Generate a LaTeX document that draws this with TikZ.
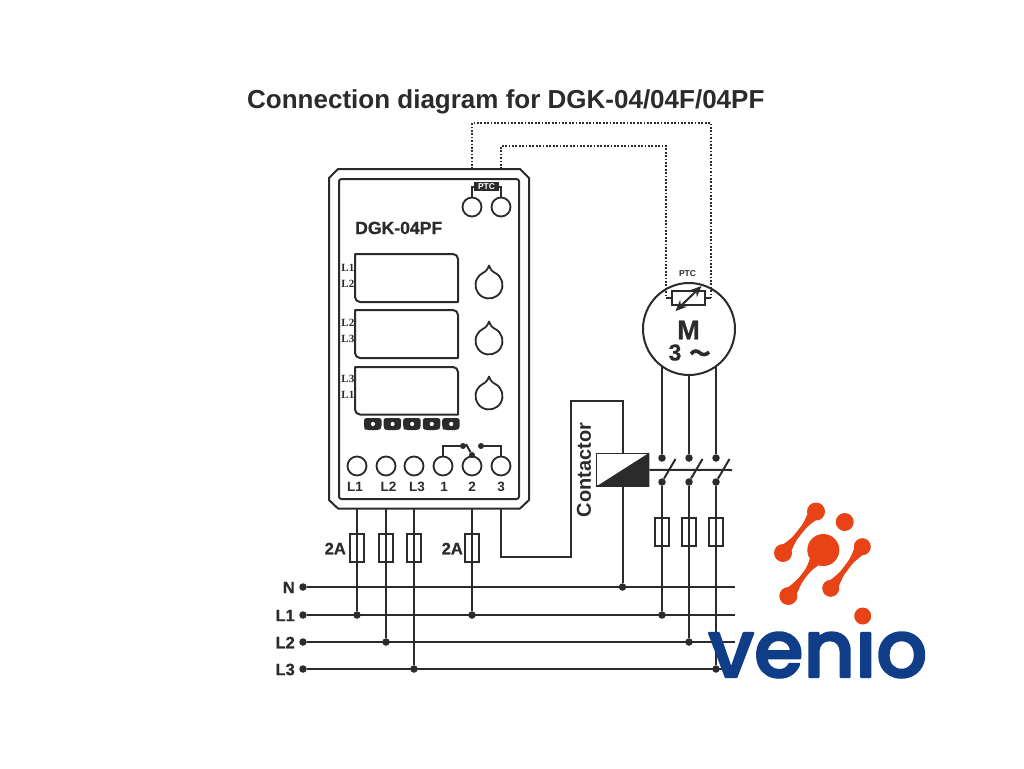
\documentclass[tikz,border=0pt]{standalone}
\usepackage{graphicx}
\usepackage{fontspec}
\setmainfont{Liberation Sans}
\newfontfamily\serifb{Liberation Serif}
\newfontfamily\heavy[BoldFeatures={FakeBold=0.7}]{Liberation Sans}
\newfontfamily\logofont[FakeBold=2.6]{Poppins Medium}
\usetikzlibrary{arrows.meta,calc}
\definecolor{ink}{HTML}{2B2B2B}
\definecolor{vorange}{HTML}{E84316}
\definecolor{vblue}{HTML}{0F3D87}
\tikzset{
 wire/.style={draw=ink,line width=2pt},
 boxline/.style={draw=ink,line width=2pt,line join=round},
 dotline/.style={draw=ink,line width=2pt,dash pattern=on 1.7pt off 1.7pt},
 term/.style={circle,draw=ink,line width=1.8pt,minimum size=19pt,inner sep=0pt},
 jdot/.style={circle,fill=ink,minimum size=7.5pt,inner sep=0pt},
 fusebox/.style={rectangle,draw=ink,line width=1.8pt,minimum width=14.5pt,minimum height=28pt,inner sep=0pt},
 lab/.style={text=ink,font=\heavy\bfseries\fontsize{16.5}{16.5}\selectfont,inner sep=0pt},
 lcd/.style={text=ink,font=\serifb\bfseries\fontsize{11}{11}\selectfont,inner sep=0pt},
 termlab/.style={text=ink,font=\bfseries\fontsize{13.5}{13.5}\selectfont,inner sep=0pt},
}
\newcommand\lcdbox[2]{% top, bottom
 \draw[boxline] (355,#1+1) -- ++(0,-1) -- (453,#1) arc[start angle=-90,end angle=0,radius=5] -- (458,#2) -- (360,#2) arc[start angle=90,end angle=180,radius=5] -- cycle;}
\newcommand\dropknob[2]{%
 \draw[draw=ink,line width=1.8pt,line join=round] (#1,#2-19.5) .. controls (#1+1.5,#2-15.5) and (#1+3,#2-13.5) .. (#1+6.75,#2-11.7)
  arc[start angle=-60,end angle=240,radius=13.5] .. controls (#1-3,#2-13.5) and (#1-1.5,#2-15.5) .. cycle;}
\newcommand\logostem[6]{% x1 y1 r1 x2 y2 r2
 \coordinate (sa) at (#1,#2); \coordinate (sb) at (#4,#5); \coordinate (sm) at ($(sa)!.5!(sb)$);
 \fill[vorange] ($(sa)!#3pt!90:(sb)$) .. controls (sm) .. ($(sb)!#6pt!-90:(sa)$) -- ($(sb)!#6pt!90:(sa)$) .. controls (sm) .. ($(sa)!#3pt!-90:(sb)$) -- cycle;
 \draw[vorange,line width=5pt] (sa) -- (sb);
 }
\begin{document}
\begin{tikzpicture}[x=1pt,y=-1pt]
\useasboundingbox (0,0) rectangle (1024,768);
\fill[white] (0,0) rectangle (1024,768);

\node[text=ink,font=\bfseries\fontsize{26}{26}\selectfont,inner sep=0pt,anchor=base west] (title) at (247,108.5) {Connection diagram for DGK-04/04F/04PF};

% housing
\draw[boxline] (338,169) -- (520,169) -- (529,178) -- (529,500) -- (520,508.5) -- (338,508.5) -- (329,500) -- (329,178) -- cycle;
\draw[boxline,rounded corners=2.5pt] (339,179) rectangle (519,499);
\node[text=ink,font=\heavy\bfseries\fontsize{17.6}{18}\selectfont,inner sep=0pt,anchor=base west] (model) at (355,234) {DGK-04PF};

% terminals
\foreach \n/\x in {t1/357,t2/386,t3/414,t4/443,t5/472,t6/501}{\node[term] (\n) at (\x,466) {};}
\node[term] (p1) at (472,207) {};
\node[term] (p2) at (501,207) {};
\node[termlab] (lt1) at (355,486.5) {L1};
\node[termlab] (lt2) at (388.5,486.5) {L2};
\node[termlab] (lt3) at (417,486.5) {L3};
\node[termlab] (lt4) at (444,486.5) {1};
\node[termlab] (lt5) at (472,486.5) {2};
\node[termlab] (lt6) at (501,486.5) {3};

% PTC tag
\node[fill=ink,text=white,font=\bfseries\fontsize{8.5}{9}\selectfont,minimum width=25pt,minimum height=9.5pt,inner sep=0pt] (ptctag) at (486.5,186.5) {PTC};
\draw[wire] (p1.north) |- (ptctag.west);
\draw[wire] (p2.north) |- (ptctag.east);

% displays
\lcdbox{254}{302}
\lcdbox{310}{358}
\lcdbox{367}{414.5}
\foreach \n/\y/\t in {a/268/L1,b/284/L2,c/322.5/L2,d/339/L3,e/378.5/L3,f/395/L1}{\node[lcd,anchor=east] (\n) at (354.5,\y) {\t};}

% knobs
\dropknob{489}{285}
\dropknob{489}{341}
\dropknob{489}{396}

% buttons
\foreach \x in {373,392.6,412.2,431.8,451.2}{
 \fill[ink,rounded corners=2.5pt] (\x-9,418) -- (\x+8.5,418) -- (\x+8.5,428) -- (\x+6,430) -- (\x-7,430) -- (\x-9,428) -- cycle;
 \fill[white] (\x,424) circle[radius=2.1];
}

% relay
\node[jdot,minimum size=6pt] (rl) at (463,446) {};
\node[jdot,minimum size=6pt] (rp) at (472,455) {};
\node[jdot,minimum size=6pt] (rr) at (481,446) {};
\draw[wire] (t4.north) |- (rl);
\draw[wire] (t5.north) -- (rp);
\draw[wire] (t6.north) |- (rr);
\draw[wire] (rp) -- (466,444);

% bus lines
\foreach \n/\y/\t in {N/587/N,A/615/L1,B/642/L2,C/669/L3}{
 \node[jdot] (bus\n) at (303,\y) {};
 \coordinate (end\n) at (735,\y);
 \node[lab,anchor=east] (lbl\n) at (295,\y+0.5) {\t};
 \draw[wire] (bus\n) -- (end\n);
}
\draw[wire,line width=2.4pt] (busC) -- (716,669);

% junctions on buses
\node[jdot] (j1) at (357,615) {};
\node[jdot] (j2) at (386,642) {};
\node[jdot] (j3) at (414,669) {};
\node[jdot] (j4) at (472,615) {};
\node[jdot] (j5) at (622.5,587) {};
\node[jdot] (j6) at (662,615) {};
\node[jdot] (j7) at (689,642) {};
\node[jdot] (j8) at (716,669) {};

% feeds from unit
\foreach \x/\j in {357/j1,386/j2,414/j3,472/j4}{
 \coordinate (top\j) at (\x,508.5);
 \draw[wire] (top\j) -- (\j);
}
\node[fusebox] (f1) at (357,548) {};
\node[fusebox] (f2) at (386,548) {};
\node[fusebox] (f3) at (414,548) {};
\node[fusebox] (f4) at (472,548) {};
\node[lab,anchor=east] (fa) at (346,548.5) {2A};
\node[lab,anchor=east] (fb) at (463,548.5) {2A};

% contactor coil
\node[rectangle,draw=ink,line width=1.8pt,minimum width=52pt,minimum height=32.5pt,inner sep=0pt] (coil) at (622.5,469.8) {};
\fill[ink] (coil.south west) -- (coil.north east) -- (coil.south east) -- cycle;
\coordinate (t6b) at (501,508.5);
\draw[wire] (t6b) -- (501,557) -- (571,557) -- (571,401) -- (622.5,401) -- (coil.north);
\draw[wire] (coil.south) -- (j5);
\node[text=ink,font=\bfseries\fontsize{20}{20}\selectfont,inner sep=0pt,rotate=90] (ctr) at (584,470) {Contactor};

% motor
\node[circle,draw=ink,line width=2pt,minimum size=92pt,inner sep=0pt] (motor) at (689,329) {};
\node[text=ink,font=\bfseries\fontsize{8.5}{8.5}\selectfont,inner sep=0pt] (mptc) at (687.5,273.5) {PTC};
\node[rectangle,draw=ink,line width=1.6pt,minimum width=33pt,minimum height=14pt,inner sep=0pt] (res) at (688.5,298) {};
\coordinate (rla) at (666,298);
\coordinate (rlb) at (711,298);
\draw[wire] (rla) -- (res.west);
\draw[wire] (res.east) -- (rlb);
\draw[draw=ink,line width=2pt,{Stealth[length=11pt,width=9.5pt]}-{Stealth[length=11pt,width=9.5pt]}] (675.5,311) -- (701.5,286);
\node[text=ink,font=\heavy\bfseries\fontsize{27}{27}\selectfont,inner sep=0pt] (mm) at (688.5,330) {M};
\node[text=ink,font=\heavy\bfseries\fontsize{23}{23}\selectfont,inner sep=0pt] (m3) at (675,352.5) {3};
\draw[draw=ink,line width=3.6pt] (691,354) .. controls (694,349.5) and (698,351) .. (700,353) .. controls (702,355) and (706,355.5) .. (709,352);

% dotted PTC wires
\coordinate (d1) at (472,169);
\coordinate (d2) at (501,169);
\draw[dotline] (d1) -- (472,123) -- (711,123) -- (rlb);
\draw[dotline] (d2) -- (501,146) -- (666,146) -- (rla);

% contacts
\foreach \n/\x/\j in {a/662/j6,b/689/j7,c/716/j8}{
 \coordinate (mot\n) at (\x,{329+sqrt(46*46-(\x-689)*(\x-689))});
 \node[jdot] (cu\n) at (\x,458) {};
 \node[jdot] (cl\n) at (\x,482) {};
 \draw[wire] (mot\n) -- (cu\n);
 \draw[wire] (cl\n) -- (\j);
 \draw[wire] (cl\n) -- (\x+13.5,459);
 \node[fusebox] (g\n) at (\x,532) {};
}
\coordinate (lk) at (732,470);
\draw[wire] (coil.east) -- (lk);

% logo
\logostem{816}{511.5}{7}{783}{553}{7}
\logostem{862.3}{546.7}{7}{830.7}{588.3}{7}
\logostem{823.3}{550}{11}{788.3}{596}{7}
\fill[vorange] (816,511.5) circle[radius=9];
\fill[vorange] (783,553) circle[radius=9];
\fill[vorange] (844.7,522) circle[radius=9];
\fill[vorange] (823.3,550) circle[radius=16];
\fill[vorange] (788.3,596) circle[radius=9];
\fill[vorange] (862.3,546.7) circle[radius=8.5];
\fill[vorange] (830.7,588.3) circle[radius=8.5];
\begin{scope}[line join=round,line cap=round]
\node[text=vblue,inner sep=0pt,anchor=base west] (venio) at (708,677) {\resizebox{219pt}{!}{\logofont venio}};
\end{scope}
\fill[white] (850,604) rectangle (875,628.5);
\fill[vorange] (862.7,616) circle[radius=8.5];
\end{tikzpicture}
\end{document}
